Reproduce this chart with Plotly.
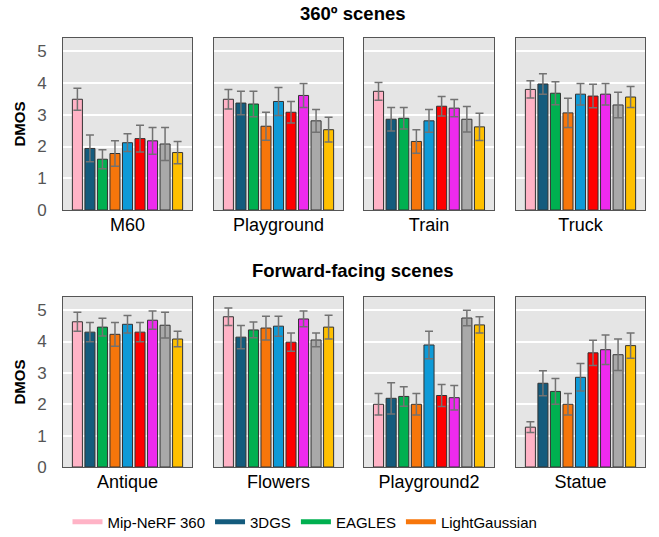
import plotly.graph_objects as go

methods = ["Mip-NeRF 360", "3DGS", "EAGLES", "LightGaussian",
           "Method 5", "Method 6", "Method 7", "Method 8", "Method 9"]
colors = ["#FFB3C6", "#145B7D", "#00B050", "#F7760B", "#0E9AD7",
          "#FF0000", "#EE2AEE", "#A9A9A9", "#FFC000"]
legend_shown = ["Mip-NeRF 360", "3DGS", "EAGLES", "LightGaussian"]

scenes_360 = ["M60", "Playground", "Train", "Truck"]
scenes_ff = ["Antique", "Flowers", "Playground2", "Statue"]

dmos_360 = {
    "M60":        [3.49, 1.94, 1.60, 1.78, 2.12, 2.25, 2.18, 2.08, 1.81],
    "Playground": [3.49, 3.37, 3.34, 2.64, 3.42, 3.08, 3.61, 2.81, 2.53],
    "Train":      [3.74, 2.86, 2.89, 2.16, 2.81, 3.27, 3.21, 2.86, 2.62],
    "Truck":      [3.80, 3.97, 3.68, 3.06, 3.65, 3.59, 3.65, 3.31, 3.56],
}
err_360 = {
    "M60":        [0.35, 0.42, 0.30, 0.40, 0.28, 0.42, 0.42, 0.52, 0.35],
    "Playground": [0.31, 0.37, 0.40, 0.44, 0.44, 0.34, 0.38, 0.36, 0.39],
    "Train":      [0.28, 0.37, 0.34, 0.37, 0.36, 0.31, 0.27, 0.40, 0.43],
    "Truck":      [0.27, 0.32, 0.36, 0.46, 0.34, 0.37, 0.34, 0.40, 0.33],
}
dmos_ff = {
    "Antique":     [4.63, 4.30, 4.46, 4.23, 4.55, 4.30, 4.68, 4.52, 4.08],
    "Flowers":     [4.79, 4.14, 4.37, 4.43, 4.49, 3.98, 4.72, 4.05, 4.46],
    "Playground2": [2.00, 2.19, 2.25, 2.00, 3.89, 2.28, 2.21, 4.75, 4.53],
    "Statue":      [1.27, 2.67, 2.41, 2.00, 2.86, 3.64, 3.74, 3.58, 3.87],
}
err_ff = {
    "Antique":     [0.30, 0.31, 0.28, 0.38, 0.28, 0.31, 0.29, 0.41, 0.25],
    "Flowers":     [0.28, 0.37, 0.25, 0.38, 0.32, 0.29, 0.25, 0.22, 0.38],
    "Playground2": [0.34, 0.50, 0.31, 0.34, 0.44, 0.35, 0.39, 0.25, 0.26],
    "Statue":      [0.17, 0.40, 0.41, 0.34, 0.44, 0.40, 0.47, 0.50, 0.40],
}
row_titles = ["360º scenes", "Forward-facing scenes"]
y_ticks = [0, 1, 2, 3, 4, 5]

W, H = 659, 537
FONT = "Liberation Sans, Arial, Helvetica, sans-serif"
col_px = [(63, 192), (214, 343), (364, 494), (516, 645)]
row_px = [(38, 210), (297, 467)]

fig = go.Figure()
layout = {}
rows = [(scenes_360, dmos_360, err_360), (scenes_ff, dmos_ff, err_ff)]
idx = 0
for r, (scenes, vals, errs) in enumerate(rows):
    for c, scene in enumerate(scenes):
        idx += 1
        xa = "x" if idx == 1 else f"x{idx}"
        ya = "y" if idx == 1 else f"y{idx}"
        fig.add_trace(go.Bar(
            x=list(range(len(methods))), y=vals[scene],
            marker=dict(color=colors, line=dict(color="#333333", width=1)),
            width=0.8,
            error_y=dict(type="data", array=errs[scene], symmetric=True,
                         color="#727272", thickness=1.5, width=4),
            xaxis=xa, yaxis=ya, showlegend=False, hoverinfo="y",
        ))
        x0, x1 = col_px[c]
        y0, y1 = row_px[r]
        xkey = "xaxis" if idx == 1 else f"xaxis{idx}"
        ykey = "yaxis" if idx == 1 else f"yaxis{idx}"
        layout[xkey] = dict(
            domain=[x0 / W, x1 / W], anchor=ya, range=[-1.15, 9.15],
            showticklabels=False, ticks="", showgrid=False, zeroline=False,
            showline=True, linecolor="#555555", linewidth=1, mirror=True,
            automargin=False,
            title=dict(text=scene, font=dict(size=18, color="#000000", family=FONT),
                       standoff=8),
            fixedrange=True,
        )
        layout[ykey] = dict(
            domain=[1 - y1 / H, 1 - y0 / H], anchor=xa, range=[0, 5.42],
            tickvals=y_ticks, showticklabels=(c == 0),
            tickfont=dict(size=17, color="#555555", family=FONT),
            ticks="", showgrid=True, gridcolor="#ffffff", gridwidth=1.5,
            zeroline=False, showline=True, linecolor="#555555", linewidth=1,
            mirror=True, ticklabelstandoff=12, automargin=False,
            title=dict(text="<b>DMOS</b>" if c == 0 else "",
                       font=dict(size=15, color="#000000", family=FONT), standoff=7),
            fixedrange=True,
        )

# legend entries (line swatches)
for name in legend_shown:
    i = methods.index(name)
    fig.add_trace(go.Scatter(x=[None], y=[None], mode="lines", name=name,
                             line=dict(color=colors[i], width=5),
                             xaxis="x", yaxis="y", showlegend=True))

annotations = [
    dict(text=f"<b>{row_titles[0]}</b>", x=353 / W, y=1 - 14 / H, xref="paper", yref="paper",
         yanchor="middle", showarrow=False, font=dict(size=18.5, color="#000000", family=FONT)),
    dict(text=f"<b>{row_titles[1]}</b>", x=353 / W, y=1 - 270 / H, xref="paper", yref="paper",
         yanchor="middle", showarrow=False, font=dict(size=18.5, color="#000000", family=FONT)),
]

fig.update_layout(
    **layout,
    width=W, height=H,
    margin=dict(l=0, r=0, t=0, b=0, autoexpand=False),
    paper_bgcolor="#ffffff", plot_bgcolor="#e5e5e5",
    font=dict(family=FONT, color="#000000"),
    barmode="overlay",
    annotations=annotations,
    legend=dict(orientation="h", x=305 / W, xanchor="center", y=1 - 522 / H, yanchor="middle",
                font=dict(size=15, color="#000000", family=FONT), itemclick=False,
                bgcolor="rgba(0,0,0,0)"),
)

fig.write_html("out.html", config={"displayModeBar": False})

# remove the default page margin so the figure sits at the window's corner
with open("out.html", "r", encoding="utf-8") as f:
    html = f.read()
html = html.replace("<body>", '<body style="margin:0;padding:0;overflow:hidden">', 1)
with open("out.html", "w", encoding="utf-8") as f:
    f.write(html)
